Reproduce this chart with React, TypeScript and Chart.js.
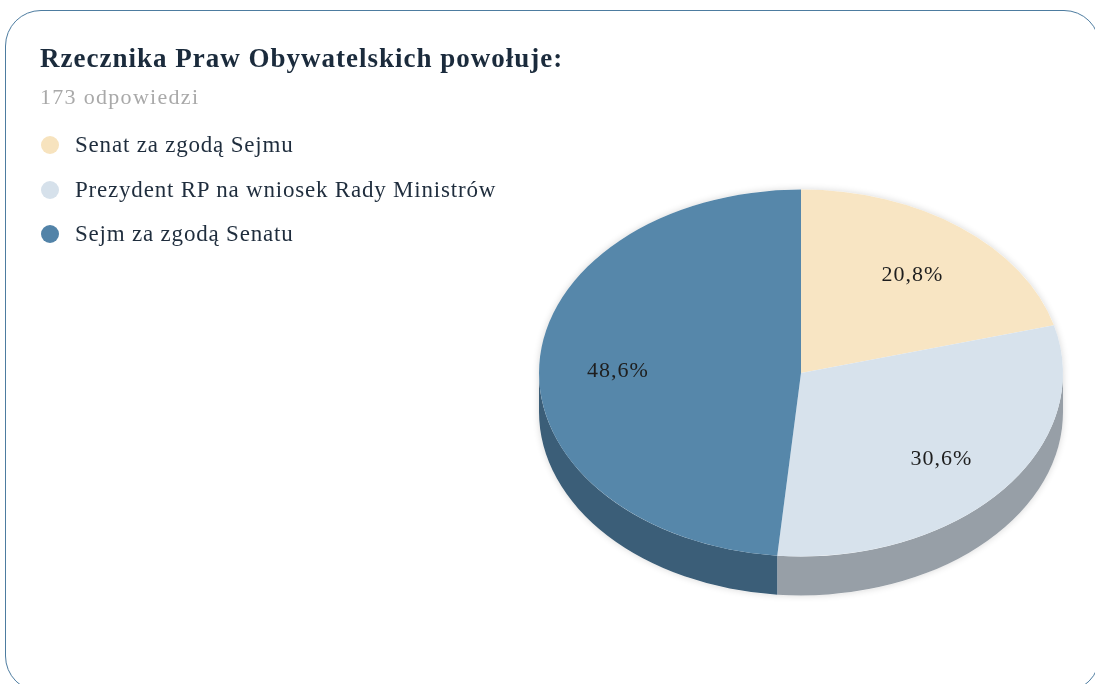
import React, { useEffect, useRef } from "react";
import { Chart, registerables } from "chart.js";

Chart.register(...registerables);

const TITLE = "Rzecznika Praw Obywatelskich powołuje:";
const SUBTITLE = "173 odpowiedzi";
const LABELS = [
  "Senat za zgodą Sejmu",
  "Prezydent RP na wniosek Rady Ministrów",
  "Sejm za zgodą Senatu",
];
const VALUES = [36, 53, 84];
const TOP_COLORS = ["#f8e5c3", "#d7e2ec", "#5687aa"];
const SIDE_COLORS = ["#bcae93", "#979fa7", "#3b5e78"];
const LEGEND_COLORS = ["#f7e3be", "#d6e1eb", "#5283a8"];

const FONT = '"Liberation Serif", "Times New Roman", serif';
const TILT = 0.7;
const DEPTH = 39;
const LABEL_POS = 0.7;

const pie3d = {
  id: "pie3d",
  beforeDatasetsDraw(chart: any) {
    const meta = chart.getDatasetMeta(0);
    const arcs = meta.data as any[];
    const ctx = chart.ctx as CanvasRenderingContext2D;
    ctx.save();
    if (!arcs.length) return;
    const { x: cx, y: cy, outerRadius: R } = arcs[0].getProps(["x", "y", "outerRadius"], true);
    const ry = R * TILT;
    // soft halo
    ctx.save();
    ctx.shadowColor = "rgba(0,0,0,0.16)";
    ctx.shadowBlur = 7;
    ctx.fillStyle = "#ffffff";
    ctx.beginPath();
    ctx.ellipse(cx, cy, R, ry, 0, Math.PI, 2 * Math.PI);
    ctx.lineTo(cx + R, cy + DEPTH);
    ctx.ellipse(cx, cy + DEPTH, R, ry, 0, 0, Math.PI);
    ctx.closePath();
    ctx.fill();
    ctx.restore();
    // sides
    arcs.forEach((arc: any, i: number) => {
      const { startAngle, endAngle } = arc.getProps(["startAngle", "endAngle"], true);
      for (const shift of [-2 * Math.PI, 0, 2 * Math.PI]) {
        const a0 = Math.max(startAngle + shift, 0);
        const a1 = Math.min(endAngle + shift, Math.PI);
        if (a1 <= a0) continue;
        ctx.beginPath();
        ctx.ellipse(cx, cy, R, ry, 0, a0, a1);
        ctx.lineTo(cx + R * Math.cos(a1), cy + ry * Math.sin(a1) + DEPTH);
        ctx.ellipse(cx, cy + DEPTH, R, ry, 0, a1, a0, true);
        ctx.closePath();
        ctx.fillStyle = SIDE_COLORS[i];
        ctx.fill();
      }
    });
    ctx.translate(cx, cy);
    ctx.scale(1, TILT);
    ctx.translate(-cx, -cy);
  },
  afterDatasetsDraw(chart: any) {
    const ctx = chart.ctx as CanvasRenderingContext2D;
    ctx.restore();
    const meta = chart.getDatasetMeta(0);
    const arcs = meta.data as any[];
    if (!arcs.length) return;
    const total = VALUES.reduce((a, b) => a + b, 0);
    ctx.save();
    ctx.font = `22px ${FONT}`;
    (ctx as any).letterSpacing = "1px";
    ctx.fillStyle = "#1e1e1e";
    ctx.textAlign = "center";
    ctx.textBaseline = "middle";
    arcs.forEach((arc: any, i: number) => {
      const { x, y, startAngle, endAngle, outerRadius } = arc.getProps(
        ["x", "y", "startAngle", "endAngle", "outerRadius"],
        true
      );
      const mid = (startAngle + endAngle) / 2;
      const tx = x + outerRadius * LABEL_POS * Math.cos(mid);
      const ty = y + outerRadius * TILT * LABEL_POS * Math.sin(mid) + 4;
      const pct = ((VALUES[i] / total) * 100).toFixed(1).replace(".", ",") + "%";
      ctx.fillText(pct, tx, ty);
    });
    ctx.restore();
  },
};

export default function App() {
  const canvasRef = useRef<HTMLCanvasElement | null>(null);

  useEffect(() => {
    if (!canvasRef.current) return;
    const chart = new Chart(canvasRef.current, {
      type: "pie",
      data: {
        labels: LABELS,
        datasets: [
          {
            data: VALUES,
            backgroundColor: TOP_COLORS,
            borderWidth: 0,
            clip: false as any,
          },
        ],
      },
      options: {
        animation: false,
        responsive: false,
        maintainAspectRatio: false,
        layout: { padding: { left: 539, right: 32, top: 111, bottom: 49 } },
        plugins: {
          legend: { display: false },
          title: { display: false },
          tooltip: { enabled: false },
        },
        events: [],
      },
      plugins: [pie3d],
    });
    return () => chart.destroy();
  }, []);

  return (
    <div
      style={{
        position: "absolute",
        left: 0,
        top: 0,
        width: 1095,
        height: 684,
        overflow: "hidden",
        background: "#ffffff",
        fontFamily: FONT,
      }}
    >
      <div
        style={{
          position: "absolute",
          left: 5,
          top: 10,
          width: 1095,
          height: 682,
          border: "1.5px solid #4d7ca0",
          borderRadius: 36,
          boxSizing: "border-box",
        }}
      />
      <canvas
        ref={canvasRef}
        width={1095}
        height={684}
        style={{ position: "absolute", left: 0, top: 0, width: 1095, height: 684 }}
      />
      <div
        style={{
          position: "absolute",
          left: 40,
          top: 45,
          fontSize: 27,
          lineHeight: "27px",
          letterSpacing: "1px",
          fontWeight: 700,
          color: "#1b2b3c",
          whiteSpace: "nowrap",
        }}
      >
        {TITLE}
      </div>
      <div
        style={{
          position: "absolute",
          left: 40,
          top: 86,
          fontSize: 22,
          lineHeight: "22px",
          letterSpacing: "1.3px",
          color: "#a9a9a9",
          whiteSpace: "nowrap",
        }}
      >
        {SUBTITLE}
      </div>
      {LABELS.map((label, i) => (
        <div
          key={label}
          style={{
            position: "absolute",
            left: 41,
            top: 134 + i * 44.5,
            height: 22,
            display: "flex",
            alignItems: "center",
            whiteSpace: "nowrap",
          }}
        >
          <span
            style={{
              display: "inline-block",
              width: 18,
              height: 18,
              borderRadius: "50%",
              background: LEGEND_COLORS[i],
              marginRight: 16,
            }}
          />
          <span
            style={{ fontSize: 23, lineHeight: "22px", letterSpacing: "0.8px", color: "#1f2d3d" }}
          >
            {label}
          </span>
        </div>
      ))}
    </div>
  );
}
